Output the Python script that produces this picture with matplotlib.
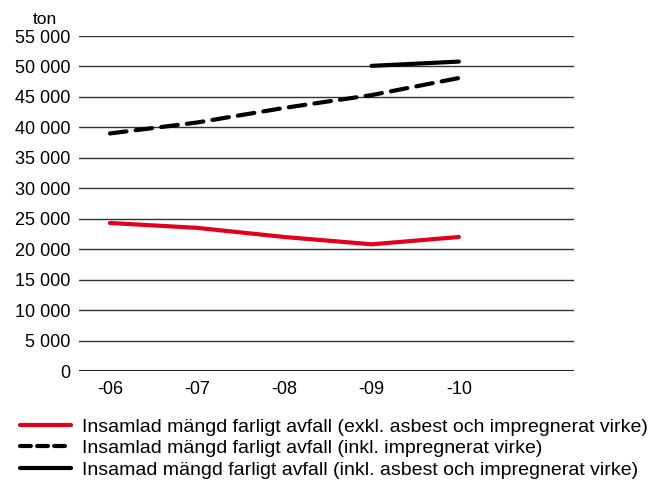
import matplotlib
matplotlib.use("Agg")
import matplotlib.pyplot as plt
from matplotlib.lines import Line2D

plt.rcParams['font.family'] = ['Liberation Sans', 'DejaVu Sans']

years = ['-06', '-07', '-08', '-09', '-10']
exkl_asbest = [24300, 23500, 22000, 20800, 22000]
inkl_virke = [39000, 40800, 43200, 45300, 48100]
inkl_asbest_years = ['-09', '-10']
inkl_asbest = [50100, 50800]

yticks = list(range(0, 55001, 5000))
ytick_labels = [f"{v:,}".replace(",", " ") for v in yticks]

labels = [
    'Insamlad mängd farligt avfall (exkl. asbest och impregnerat virke)',
    'Insamlad mängd farligt avfall (inkl. impregnerat virke)',
    'Insamad mängd farligt avfall (inkl. asbest och impregnerat virke)',
]

red = '#e2001a'

fig = plt.figure(figsize=(6.61, 4.8), dpi=100)
ax = fig.add_axes([79 / 661, 1 - 371 / 480, (574 - 79) / 661, (371 - 36) / 480])

x = list(range(len(years)))
x_asbest = [years.index(y) for y in inkl_asbest_years]

ax.plot(x, exkl_asbest, color=red, lw=3, solid_capstyle='round')
ax.plot(x, inkl_virke, color='black', lw=3, dashes=(4, 2.2), dash_capstyle='round')
ax.plot(x_asbest, inkl_asbest, color='black', lw=3, solid_capstyle='round')

ax.set_ylim(0, 55000)
ax.set_xlim(-0.355, 5.32)
ax.set_yticks(yticks)
ax.set_yticklabels(ytick_labels, fontsize=13)
ax.set_xticks(x)
ax.set_xticklabels(years, fontsize=13)
ax.tick_params(axis='y', length=0, pad=6)
ax.tick_params(axis='x', length=0, pad=7)
ax.yaxis.grid(True, color='#333333', lw=1)
ax.set_axisbelow(True)
for s in ax.spines.values():
    s.set_visible(False)
ax.axhline(0, color='#222222', lw=1.5, zorder=0)

fig.text(45 / 661, 1 - 19 / 480, 'ton', fontsize=12.5, ha='center', va='center')

handles = [
    Line2D([], [], color=red, lw=3, solid_capstyle='round'),
    Line2D([], [], color='black', lw=3, dashes=(2.6, 1.5), dash_capstyle='round'),
    Line2D([], [], color='black', lw=3, solid_capstyle='round'),
]
fig.legend(handles, labels, loc='upper left', bbox_to_anchor=(20 / 661, 1 - 418 / 480),
           frameon=False, fontsize=14, handlelength=2.6, handletextpad=0.6,
           labelspacing=0.2, borderaxespad=0, borderpad=0)

fig.savefig('out.png', dpi=100)
